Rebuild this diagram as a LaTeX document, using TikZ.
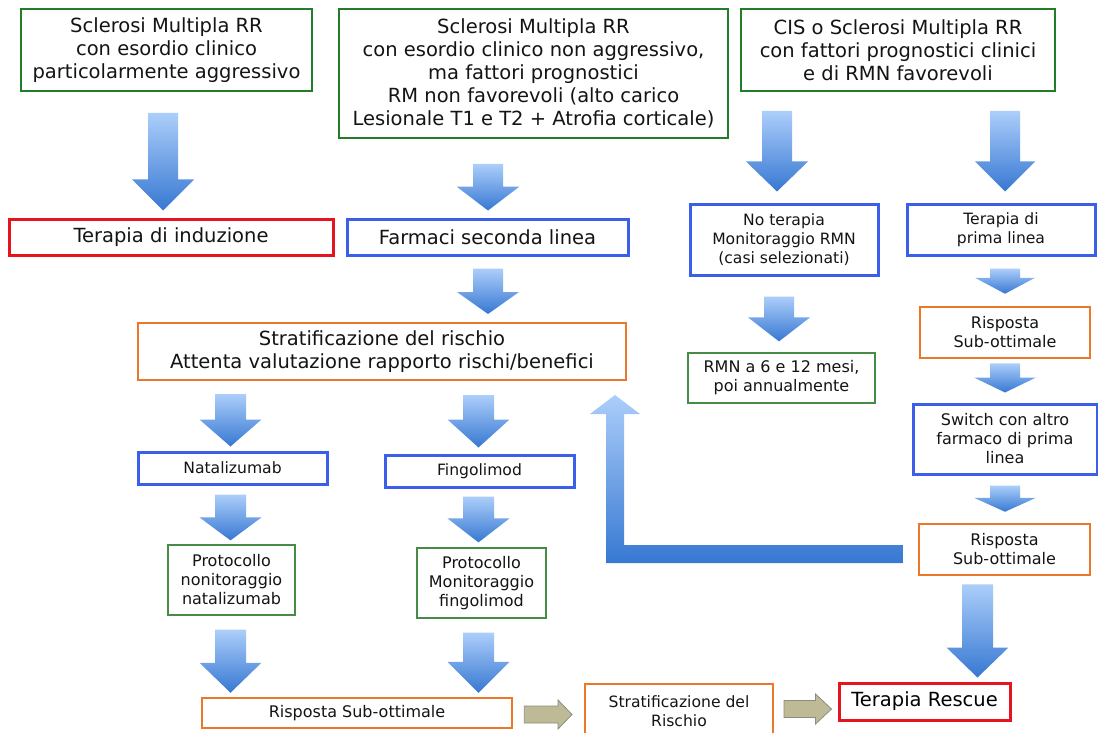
\documentclass[tikz,border=0pt]{standalone}
\usepackage{fontspec}
\setmainfont{DejaVu Sans}
\usetikzlibrary{calc}
\definecolor{gbox}{RGB}{35,125,40}
\definecolor{gthin}{RGB}{70,140,70}
\definecolor{rbox}{RGB}{230,20,30}
\definecolor{bbox}{RGB}{60,95,235}
\definecolor{obox}{RGB}{235,120,40}
\definecolor{txt}{RGB}{20,20,20}
\definecolor{arlight}{RGB}{172,206,250}
\definecolor{ardark}{RGB}{55,120,210}
\definecolor{grfill}{RGB}{190,186,150}
\definecolor{grline}{RGB}{140,140,130}
\tikzset{
  box/.style={draw, fill=white, align=center, inner sep=0pt, text=txt},
  bigtxt/.style={font=\fontsize{19.5}{23}\selectfont},
  midtxt/.style={font=\fontsize{16}{19}\selectfont},
  smtxt/.style={font=\fontsize{15.6}{19}\selectfont},
  greenbox/.style={box, draw=gbox, line width=2pt},
  thingreen/.style={box, draw=gthin, line width=1.2pt},
  redbox/.style={box, draw=rbox, line width=3pt},
  bluebox/.style={box, draw=bbox, line width=3pt},
  orangebox/.style={box, draw=obox, line width=2.5pt},
  barrow/.style={top color=arlight, bottom color=ardark, draw=none},
  garrow/.style={fill=grfill, draw=grline, line width=0.8pt},
}
% down block arrow: from, to, cx, gap top, gap bottom, head length, shaft half width, head half width
\newcommand\dnarrow[8]{%
  \path[barrow] let \p1=(#1.south), \p2=(#2.north),
      \n1={\y1-#4pt}, \n2={\y2+#5pt}, \n3={\y2+#5pt+#6pt} in
    ({#3pt-#7pt},\n1) -- ({#3pt+#7pt},\n1) -- ({#3pt+#7pt},\n3) -- ({#3pt+#8pt},\n3)
    -- (#3pt,\n2) -- ({#3pt-#8pt},\n3) -- ({#3pt-#7pt},\n3) -- cycle;}
% right block arrow: from, to, cy, gap left, gap right, head length, shaft half width, head half width
\newcommand\rtarrow[8]{%
  \path[garrow] let \p1=(#1.east), \p2=(#2.west),
      \n1={\x1+#4pt}, \n2={\x2-#5pt}, \n3={\x2-#5pt-#6pt} in
    (\n1,{-#3pt+#7pt}) -- (\n3,{-#3pt+#7pt}) -- (\n3,{-#3pt+#8pt}) -- (\n2,-#3pt)
    -- (\n3,{-#3pt-#8pt}) -- (\n3,{-#3pt-#7pt}) -- (\n1,{-#3pt-#7pt}) -- cycle;}
\begin{document}
\begin{tikzpicture}[x=1pt,y=-1pt]
\useasboundingbox (0,0) rectangle (1098,733);
\fill[white] (0,0) rectangle (1098,733);
\clip (0,0) rectangle (1098,733);

% top boxes
\node[greenbox, bigtxt, minimum width=291pt, minimum height=82pt] (A) at (166.5,50)
  {Sclerosi Multipla RR\\con esordio clinico\\particolarmente aggressivo};
\node[greenbox, bigtxt, minimum width=389pt, minimum height=129pt] (B) at (533.5,73.5)
  {Sclerosi Multipla RR\\con esordio clinico non aggressivo,\\ma fattori prognostici\\RM non favorevoli (alto carico\\Lesionale T1 e T2 + Atrofia corticale)};
\node[greenbox, bigtxt, minimum width=314pt, minimum height=82pt] (C) at (898,50)
  {CIS o Sclerosi Multipla RR\\con fattori prognostici clinici\\e di RMN favorevoli};

% second row
\node[redbox, bigtxt, minimum width=324pt, minimum height=36pt] (ind) at (171,237) {Terapia di induzione};
\node[bluebox, bigtxt, minimum width=281pt, minimum height=36pt] (farm) at (487.5,237) {Farmaci seconda linea};
\node[bluebox, smtxt, minimum width=188pt, minimum height=71pt] (noter) at (784,239.5)
  {No terapia\\Monitoraggio RMN\\(casi selezionati)};
\node[bluebox, smtxt, minimum width=188pt, minimum height=51pt] (tpl) at (1001,229.5)
  {Terapia di\\prima linea};

% middle
\node[orangebox, bigtxt, line width=2pt, minimum width=488pt, minimum height=57pt] (strat) at (382,351.5)
  {Stratificazione del rischio\\Attenta valutazione rapporto rischi/benefici};
\node[thingreen, midtxt, minimum width=187pt, minimum height=50pt] (rmn) at (781.5,378)
  {RMN a 6 e 12 mesi,\\poi annualmente};
\node[orangebox, midtxt, minimum width=170pt, minimum height=51pt] (risp1) at (1005,332.5)
  {Risposta\\Sub-ottimale};
\node[bluebox, midtxt, minimum width=184pt, minimum height=70pt] (switch) at (1005,439)
  {Switch con altro\\farmaco di prima\\linea};
\node[orangebox, midtxt, minimum width=171pt, minimum height=51pt] (risp2) at (1004.5,549.5)
  {Risposta\\Sub-ottimale};

% lower left
\node[bluebox, smtxt, minimum width=189pt, minimum height=32pt] (nat) at (232.5,468) {Natalizumab};
\node[bluebox, smtxt, minimum width=189pt, minimum height=32pt] (fing) at (479.5,471) {Fingolimod};
\node[thingreen, midtxt, minimum width=127pt, minimum height=70pt] (pnat) at (231.5,580)
  {Protocollo\\nonitoraggio\\natalizumab};
\node[thingreen, midtxt, minimum width=129pt, minimum height=70pt] (pfing) at (481.5,583)
  {Protocollo\\Monitoraggio\\fingolimod};

% bottom row
\node[orangebox, midtxt, minimum width=310pt, minimum height=30pt] (rispb) at (357,713) {Risposta Sub-ottimale};
\node[orangebox, smtxt, line width=2pt, minimum width=188pt, minimum height=54pt] (strat2) at (679,711)
  {Stratificazione del\\Rischio};
\node[redbox, bigtxt, text=black, minimum width=171pt, minimum height=37pt] (rescue) at (924.5,701.5) {Terapia Rescue};

% blue down arrows
\dnarrow{A}{ind}{163}{21}{7}{31}{15}{31}
\dnarrow{B}{farm}{488}{25}{7}{24}{15}{31.5}
\dnarrow{farm}{strat}{488}{12}{8}{22}{15}{31}
\dnarrow{C}{noter}{777}{19}{11}{30}{15}{31}
\dnarrow{C}{tpl}{1005}{19}{11}{30}{15}{30}
\dnarrow{tpl}{risp1}{1005}{12}{12}{16}{15}{30}
\dnarrow{noter}{rmn}{779}{20}{11}{24}{15}{31}
\dnarrow{risp1}{switch}{1005}{4}{10}{15}{15}{31}
\dnarrow{switch}{risp2}{1005}{10}{11}{14}{15}{31}
\dnarrow{risp2}{rescue}{977.5}{8}{4}{30}{15.5}{31}
\dnarrow{strat}{nat}{230.5}{13}{4}{27}{15.5}{31}
\dnarrow{nat}{pnat}{230.5}{9}{4}{23}{15.5}{31}
\dnarrow{pnat}{rispb}{230.5}{14}{4}{30}{15.5}{31}
\dnarrow{strat}{fing}{478.5}{14}{6}{28}{15.5}{31}
\dnarrow{fing}{pfing}{478.5}{8}{5}{24}{15.5}{31}
\dnarrow{pfing}{rispb}{478.5}{14}{4}{31}{15.5}{31}

% return arrow from risp2 back to strat
\coordinate (rbR) at ($(risp2.west)+(-15,0)$);
\coordinate (rtip) at ($(strat.south -| 615,0)+(0,14)$);
\path[barrow] ($(rbR)+(0,-4.5)$) -- ($(rtip |- rbR)+(9,-4.5)$) -- ($(rtip)+(9,19)$) -- ($(rtip)+(25,19)$)
  -- (rtip) -- ($(rtip)+(-25,19)$) -- ($(rtip)+(-9,19)$) -- ($(rtip |- rbR)+(-9,13.5)$)
  -- ($(rbR)+(0,13.5)$) -- cycle;

% grey arrows
\rtarrow{rispb}{strat2}{714.5}{11}{12}{14}{8.5}{14.5}
\rtarrow{strat2}{rescue}{709}{10}{6}{16}{8.5}{15}
\end{tikzpicture}
\end{document}
